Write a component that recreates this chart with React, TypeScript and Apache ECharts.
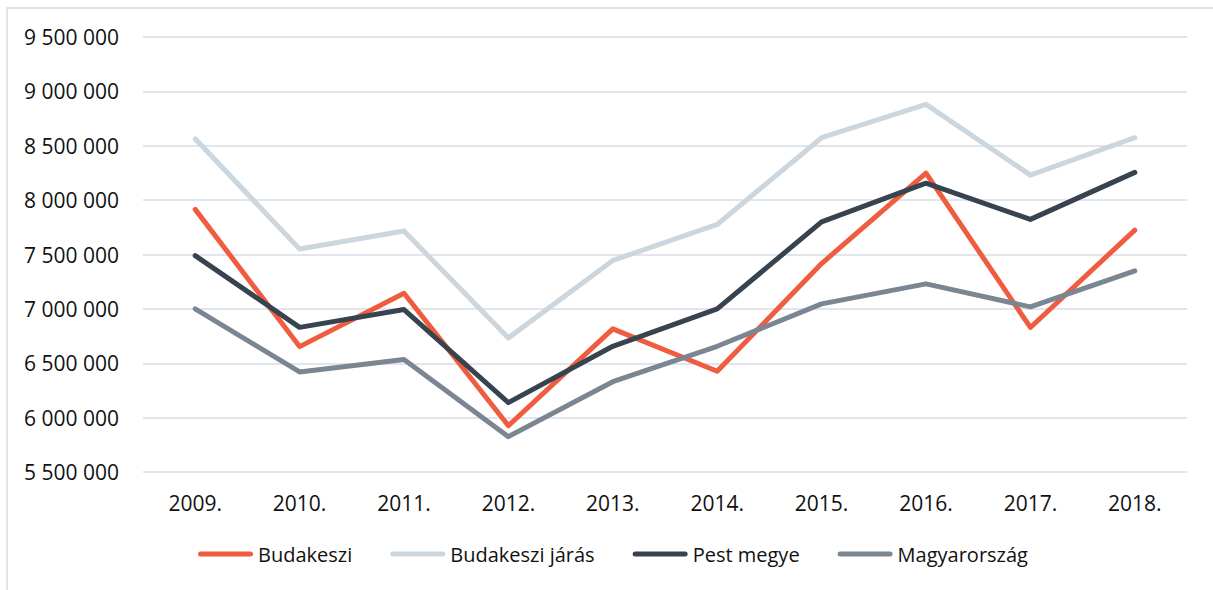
import React, { useEffect, useRef } from "react";
import * as echarts from "echarts";

const categories = ["2009.", "2010.", "2011.", "2012.", "2013.", "2014.", "2015.", "2016.", "2017.", "2018."];
const budakeszi = [7915000, 6653000, 7143000, 5926000, 6816000, 6426000, 7417000, 8248000, 6829000, 7724000];
const budakesziJaras = [8564000, 7550000, 7716000, 6733000, 7445000, 7776000, 8574000, 8880000, 8230000, 8574000];
const pestMegye = [7490000, 6830000, 6994000, 6138000, 6656000, 7000000, 7800000, 8156000, 7823000, 8255000];
const magyarorszag = [7000000, 6420000, 6534000, 5825000, 6330000, 6656000, 7046000, 7230000, 7018000, 7349000];
const seriesNames = ["Budakeszi", "Budakeszi járás", "Pest megye", "Magyarország"];
const seriesColors = ["#ef5c3f", "#cbd6de", "#37434e", "#7a8692"];
const yMin = 5500000;
const yMax = 9500000;
const yInterval = 500000;

const FONT = "'Open Sans', 'Noto Sans', sans-serif";
const TEXT = "#111111";

function fmt(v: number): string {
  return String(v).replace(/\B(?=(\d{3})+(?!\d))/g, " ");
}

export default function App() {
  const ref = useRef<HTMLDivElement>(null);
  useEffect(() => {
    document.body.style.margin = "0";
    if (!ref.current) return;
    const chart = echarts.init(ref.current, undefined, { renderer: "svg" });
    const allData = [budakeszi, budakesziJaras, pestMegye, magyarorszag];
    chart.setOption({
      animation: false,
      backgroundColor: "#ffffff",
      textStyle: { fontFamily: FONT },
      graphic: [
        {
          type: "rect",
          silent: true,
          z: -1,
          shape: { x: 7, y: 8, width: 1400, height: 800 },
          style: { fill: "none", stroke: "#d3dbe6", lineWidth: 1.5 },
        },
      ],
      grid: { left: 143, right: 26, top: 37, bottom: 118, containLabel: false },
      legend: {
        left: 193,
        top: 539,
        itemWidth: 55,
        itemHeight: 5,
        itemGap: 38,
        icon: "path://M2.5,0 H52.5 A2.5,2.5 0 0 1 52.5,5 H2.5 A2.5,2.5 0 0 1 2.5,0 Z",
        textStyle: { fontFamily: FONT, fontSize: 20, color: TEXT },
        data: seriesNames,
      },
      xAxis: {
        type: "category",
        data: categories,
        boundaryGap: true,
        axisLine: { show: false },
        axisTick: { show: false },
        axisLabel: { fontFamily: FONT, fontSize: 21, color: TEXT, margin: 20 },
      },
      yAxis: {
        type: "value",
        min: yMin,
        max: yMax,
        interval: yInterval,
        axisLine: { show: false },
        axisTick: { show: false },
        axisLabel: {
          fontFamily: FONT,
          fontSize: 21,
          color: TEXT,
          margin: 24,
          formatter: (v: number) => fmt(v),
        },
        splitLine: { show: true, lineStyle: { color: "#d7dee8", width: 1.5 } },
      },
      series: seriesNames.map((name, i) => ({
        name,
        type: "line",
        data: allData[i],
        color: seriesColors[i],
        symbol: "none",
        showSymbol: false,
        lineStyle: { width: 5, color: seriesColors[i], cap: "round", join: "round" },
        z: 2 + i,
      })),
    });
    return () => chart.dispose();
  }, []);
  return <div ref={ref} style={{ width: 1213, height: 590 }} />;
}
